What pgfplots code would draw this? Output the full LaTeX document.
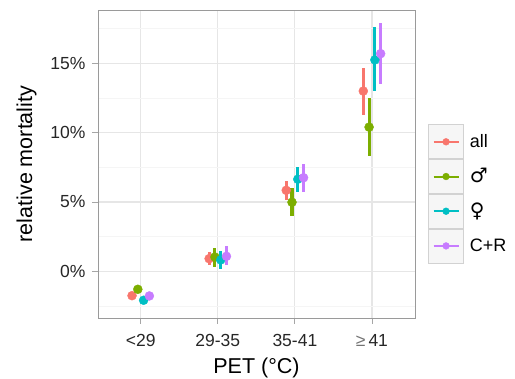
\documentclass[border=0pt]{standalone}
\usepackage{pgfplots}
\pgfplotsset{compat=1.18}
\usepackage{fontspec}
\setmainfont{Liberation Sans}
\newfontfamily\symfont{DejaVu Sans}
\definecolor{cRed}{HTML}{F8766D}
\definecolor{cGreen}{HTML}{7CAE00}
\definecolor{cCyan}{HTML}{00BFC4}
\definecolor{cPurple}{HTML}{C77CFF}
\definecolor{gridmaj}{HTML}{E6E6E6}
\definecolor{gridmin}{HTML}{F5F5F5}
\definecolor{border}{HTML}{9A9A9A}
\begin{document}
\begin{tikzpicture}
\begin{axis}[
  scale only axis,
  width=317pt, height=308pt,
  xmin=0.446, xmax=4.558,
  ymin=-3.37, ymax=18.85,
  xtick={1,2,3,4},
  xticklabels={<29,29-35,35-41,{\textcolor{black!55}{≥}\,41}},
  ytick={0,5,10,15},
  yticklabels={0\%,5\%,10\%,15\%},
  minor ytick={-2.5,2.5,7.5,12.5,17.5},
  grid=both,
  major grid style={draw=gridmaj, line width=1.1pt},
  minor grid style={draw=gridmin, line width=0.6pt},
  axis line style={draw=border, line width=0.8pt},
  tick align=outside,
  major tick length=6pt,
  tick style={draw=gray!70, line width=0.8pt},
  minor tick length=0pt,
  xtick pos=bottom, ytick pos=left,
  tick label style={font=\fontsize{17.5}{20}\selectfont, text=black!85},
  xticklabel style={yshift=-7pt},
  yticklabel style={xshift=-3pt},
  xlabel={PET (°C)},
  ylabel={relative mortality},
  label style={font=\fontsize{21.5}{24}\selectfont},
  xlabel style={yshift=-4pt},
  ylabel style={yshift=7pt},
  legend style={at={([xshift=13pt]1,0.403)}, anchor=west, draw=none, fill=none,
    row sep=0pt, column sep=5pt, inner sep=0pt,
    font=\fontsize{18}{21}\selectfont,
    nodes={inner sep=1pt, anchor=west}},
  legend cell align=left,
  legend image code/.code={%
    \draw[draw=gray!35, fill=gray!7, line width=0.7pt] (0pt,-17pt) rectangle (35pt,17pt);
    \draw[line width=2pt] (5pt,0pt) -- (30pt,0pt);
    \fill (17.5pt,0pt) circle (3.4pt);},
  error bars/y dir=both,
  error bars/y explicit,
  error bars/error mark=none,
  every axis plot/.append style={only marks, mark=*, mark size=4.5pt, mark options={draw=none}},
]
\addplot[cRed, error bars/error bar style={line width=3.1pt, cRed}] coordinates {
  (0.8875,-1.76) += (0,0.12) -= (0,0.12)
  (1.8875,0.91) += (0,0.46) -= (0,0.46)
  (2.8875,5.84) += (0,0.66) -= (0,0.69)
  (3.8875,13.0) += (0,1.7) -= (0,1.7)
};
\addlegendentry{all}
\addplot[cGreen, error bars/error bar style={line width=3.1pt, cGreen}] coordinates {
  (0.9625,-1.30) += (0,0.15) -= (0,0.15)
  (1.9625,1.03) += (0,0.67) -= (0,0.70)
  (2.9625,4.98) += (0,1.02) -= (0,0.98)
  (3.9625,10.4) += (0,2.1) -= (0,2.1)
};
\addlegendentry{{\symfont\fontsize{20}{21}\selectfont ♂}}
\addplot[cCyan, error bars/error bar style={line width=3.1pt, cCyan}] coordinates {
  (1.0375,-2.09) += (0,0.12) -= (0,0.12)
  (2.0375,0.82) += (0,0.67) -= (0,0.63)
  (3.0375,6.64) += (0,0.91) -= (0,0.94)
  (4.0375,15.25) += (0,2.35) -= (0,2.25)
};
\addlegendentry{{\symfont\fontsize{20}{21}\selectfont ♀}}
\addplot[cPurple, error bars/error bar style={line width=3.1pt, cPurple}] coordinates {
  (1.1125,-1.78) += (0,0.12) -= (0,0.12)
  (2.1125,1.08) += (0,0.72) -= (0,0.65)
  (3.1125,6.75) += (0,0.99) -= (0,1.03)
  (4.1125,15.7) += (0,2.2) -= (0,2.2)
};
\addlegendentry{C+R}
\end{axis}
\pgfresetboundingbox
\path (current axis.south west) ++(-98pt,-61pt) rectangle ++(515pt,379pt);
\end{tikzpicture}
\end{document}
